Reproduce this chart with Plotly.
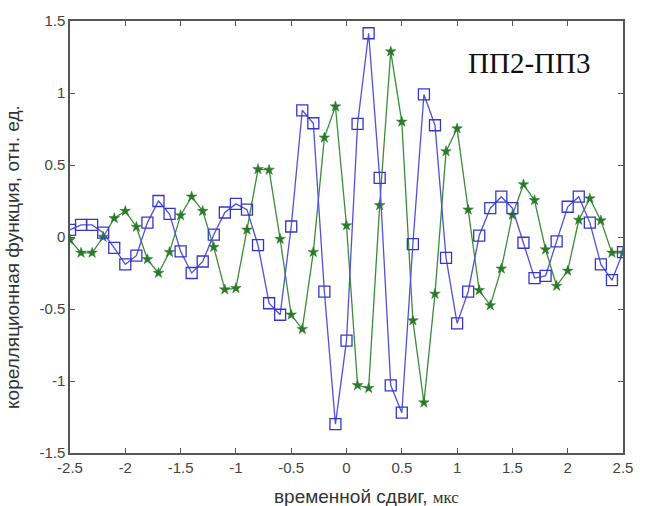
import plotly.graph_objects as go

x_vals = [round(-2.5 + 0.1 * i, 1) for i in range(51)]

blue_vals = [0.05, 0.084, 0.084, 0.03, -0.075, -0.19, -0.13, 0.10, 0.25, 0.16,
             -0.10, -0.25, -0.17, 0.016, 0.17, 0.23, 0.19, -0.057, -0.46, -0.54,
             0.073, 0.88, 0.79, -0.38, -1.30, -0.72, 0.785, 1.415, 0.41, -1.03,
             -1.22, -0.05, 0.99, 0.776, -0.145, -0.60, -0.38, 0.01, 0.20, 0.28,
             0.20, -0.04, -0.285, -0.27, -0.03, 0.21, 0.28, 0.10, -0.19, -0.30,
             -0.105]

green_vals = [-0.02, -0.11, -0.11, 0.0, 0.13, 0.18, 0.07, -0.155, -0.25, -0.105,
              0.15, 0.28, 0.18, -0.07, -0.365, -0.356, 0.05, 0.47, 0.466, -0.014,
              -0.54, -0.64, -0.105, 0.69, 0.906, 0.08, -1.03, -1.05, 0.22, 1.288,
              0.80, -0.58, -1.15, -0.395, 0.594, 0.753, 0.19, -0.37, -0.475, -0.22,
              0.153, 0.365, 0.255, -0.087, -0.34, -0.235, 0.118, 0.267, 0.114, -0.11,
              -0.11]

x_ticks = [-2.5, -2, -1.5, -1, -0.5, 0, 0.5, 1, 1.5, 2, 2.5]
x_ticklabels = ["-2.5", "-2", "-1.5", "-1", "-0.5", "0", "0.5", "1", "1.5", "2", "2.5"]
y_ticks = [-1.5, -1, -0.5, 0, 0.5, 1, 1.5]
y_ticklabels = ["-1.5", "-1", "-0.5", "0", "0.5", "1", "1.5"]

fig = go.Figure()
fig.add_trace(go.Scatter(
    x=x_vals, y=green_vals, mode="lines+markers",
    line=dict(color="#3a8c3a", width=1.3),
    marker=dict(symbol="star", size=8, color="#2a7a2a",
                line=dict(color="#2a7a2a", width=0.5)),
    showlegend=False))
fig.add_trace(go.Scatter(
    x=x_vals, y=blue_vals, mode="lines+markers",
    line=dict(color="#5050d8", width=1.3),
    marker=dict(symbol="square-open", size=11, color="#3535cc",
                line=dict(color="#3535cc", width=1.3)),
    showlegend=False))

axis_common = dict(showgrid=False, zeroline=False, showline=True, mirror="ticks",
                   linecolor="#555555", linewidth=1.5, ticks="inside", ticklen=5,
                   tickcolor="#555555", tickwidth=1,
                   tickfont=dict(family="Liberation Sans, Arial", size=15, color="#444444"))

fig.update_xaxes(range=[-2.5, 2.5], tickvals=x_ticks, ticktext=x_ticklabels, **axis_common)
fig.update_yaxes(range=[-1.5, 1.5], tickvals=y_ticks, ticktext=y_ticklabels, **axis_common)

fig.add_annotation(
    x=0.537, y=-0.1, xref="paper", yref="paper", xanchor="center", yanchor="middle",
    showarrow=False,
    text="временной сдвиг, <span style=\"font-family:'Liberation Serif', 'Times New Roman'; font-size:17px\">мкс</span>",
    font=dict(family="Liberation Sans, Arial", size=19, color="#333333"))
fig.add_annotation(
    x=-0.104, y=0.455, xref="paper", yref="paper", xanchor="center", yanchor="middle",
    showarrow=False, textangle=-90,
    text="корелляционная функция, отн. ед.",
    font=dict(family="Liberation Sans, Arial", size=19, color="#333333"))
fig.add_annotation(
    x=1.65, y=1.21, xref="x", yref="y", xanchor="center", yanchor="middle",
    showarrow=False, text="ПП2-ПП3",
    font=dict(family="Liberation Serif, Times New Roman", size=29, color="#111111"))

fig.update_layout(
    width=645, height=506,
    margin=dict(l=70, r=19, t=15, b=53),
    paper_bgcolor="white", plot_bgcolor="white")

fig.write_html("out.html")
